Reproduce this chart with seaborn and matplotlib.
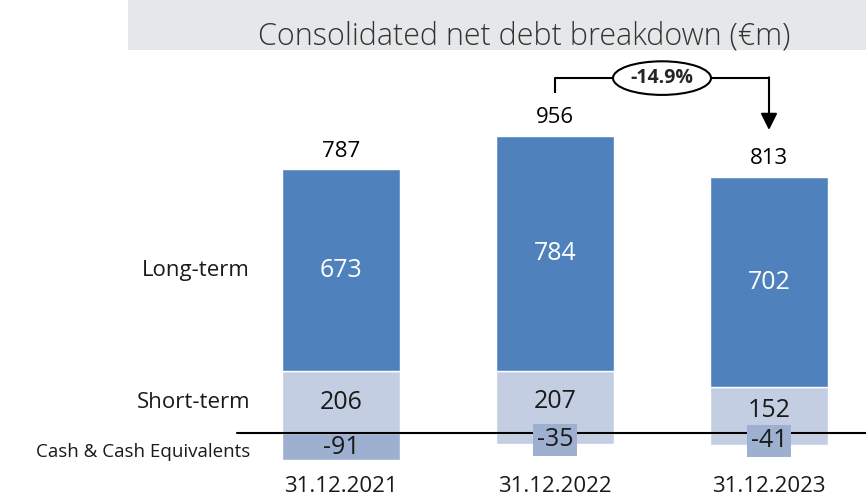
import matplotlib
matplotlib.use("Agg")
import matplotlib.pyplot as plt
from matplotlib.patches import Rectangle, Ellipse
import numpy as np
import pandas as pd
import seaborn as sns

# data
dates = ["31.12.2021", "31.12.2022", "31.12.2023"]
long_term = [673, 784, 702]
short_term = [206, 207, 152]
cash = [-91, -35, -41]
totals = [787, 956, 813]
change_label = "-14.9%"
row_labels = ["Long-term", "Short-term", "Cash & Cash Equivalents"]

df = pd.DataFrame({"date": dates, "long": long_term, "short": short_term, "cash": cash})

sns.set_style("white")
plt.rcParams["font.family"] = ["Open Sans", "DejaVu Sans"]

c_long = "#4F81BD"
c_short = "#C3CEE2"
c_cash = "#9DB0D0"

fig = plt.figure(figsize=(8.66, 4.99), dpi=100)
ax = fig.add_axes([0, 0, 1, 1])

bw = 0.551
sns.barplot(data=df, x="date", y="short", color=c_short, width=bw, saturation=1, ax=ax)
sns.barplot(data=df, x="date", y="long", color=c_long, width=bw, saturation=1,
            bottom=df["short"].values, ax=ax)
sns.barplot(data=df, x="date", y="cash", hue="date", palette=[c_cash, c_short, c_short],
            width=bw, saturation=1, legend=False, ax=ax)

ax.set_xlim(-341 / 214, (866 - 341) / 214)
ax.set_ylim(-220, 433 / 0.3)
ax.axis("off")

ax.axhline(0, xmin=237 / 866, xmax=1, color="black", lw=1.5, zorder=3)

# segment labels
for i in range(len(dates)):
    s, l, c = short_term[i], long_term[i], cash[i]
    ax.text(i, s + l / 2, str(l), ha="center", va="center", color="white", fontsize=18)
    ax.text(i, s / 2, str(s), ha="center", va="center", color="#1a1a1a", fontsize=18)
    # small cash segments get a filled label box, like the reference
    if abs(c) < 60:
        ax.text(i, c / 2 - 5, str(c), ha="center", va="center", color="#1a1a1a", fontsize=18, zorder=4,
                bbox=dict(boxstyle="square,pad=0.14", fc=c_cash, ec="none"))
    else:
        ax.text(i, c / 2 - 3, str(c), ha="center", va="center", color="#1a1a1a", fontsize=18, zorder=4)
    ax.text(i, s + l + 60, str(totals[i]), ha="center", va="center", color="black", fontsize=16)
    ax.text(i, -180, dates[i], ha="center", va="center", color="#1a1a1a", fontsize=16)

# row labels
lx = (250 - 341) / 214
ax.text(lx, short_term[0] + long_term[0] / 2, row_labels[0], ha="right", va="center", fontsize=16, color="#1a1a1a")
ax.text(lx, short_term[0] / 2, row_labels[1], ha="right", va="center", fontsize=16, color="#1a1a1a")
ax.text(lx, -63, row_labels[2], ha="right", va="center", fontsize=13.5, color="#1a1a1a")

# change bracket
yb, ys, yt = 1183, 1133, 1010
ax.plot([1, 1, 2], [ys, yb, yb], color="black", lw=1.5, solid_capstyle="butt")
ax.annotate("", xy=(2, yt), xytext=(2, yb + 2.5),
            arrowprops=dict(arrowstyle="-|>,head_length=1.0,head_width=0.5", color="black", lw=1.5,
                            shrinkA=0, shrinkB=0))
ax.add_patch(Ellipse((1.5, yb), 98 / 214, 112, fc="white", ec="black", lw=1.5, zorder=5))
ax.text(1.5, yb, change_label, ha="center", va="center", fontsize=14, fontweight="bold", zorder=6)

# title band
fig.patches.append(Rectangle((128 / 866, 1 - 50 / 499), 1, 50 / 499, transform=fig.transFigure,
                             fc="#E6E7E8", ec="none", zorder=0))
fig.text(524 / 866, 1 - 36 / 499, "Consolidated net debt breakdown (\u20acm)", ha="center", va="center",
         fontsize=22, fontweight="light", color="#333333")

fig.savefig("out.png", dpi=100)
